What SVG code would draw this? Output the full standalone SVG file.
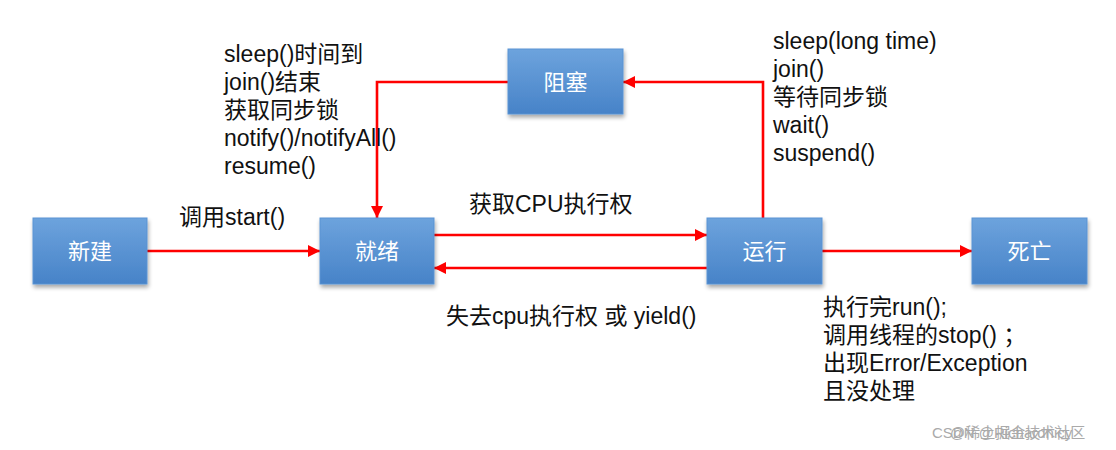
<svg xmlns="http://www.w3.org/2000/svg" width="1116" height="450" viewBox="0 0 1116 450">
<defs>
<linearGradient id="boxg" x1="0" y1="0" x2="0" y2="1">
<stop offset="0" stop-color="#6da3dd"/>
<stop offset="1" stop-color="#4783c8"/>
</linearGradient>
<filter id="sh" x="-10%" y="-10%" width="125%" height="135%">
<feGaussianBlur in="SourceAlpha" stdDeviation="2"/>
<feOffset dx="1" dy="3" result="b"/>
<feComponentTransfer><feFuncA type="linear" slope="0.35"/></feComponentTransfer>
<feMerge><feMergeNode/><feMergeNode in="SourceGraphic"/></feMerge>
</filter>
<marker id="ah" markerUnits="userSpaceOnUse" markerWidth="14" markerHeight="12" refX="12" refY="6" orient="auto">
<path d="M0,0 L12,6 L0,12 Z" fill="#f00"/>
</marker>
</defs>
<style>
.box{fill:url(#boxg);stroke:#5a93d3;stroke-width:1;filter:url(#sh)}
.bt{font-family:"Liberation Sans","Noto Sans CJK SC",sans-serif;font-size:22px;fill:#fff;text-anchor:middle}
.lb{font-family:"Liberation Sans","Noto Sans CJK SC",sans-serif;font-size:23px;fill:#111}
.cn{fill:none;stroke:#f00;stroke-width:2.6;marker-end:url(#ah)}
.wm{font-family:"Liberation Sans","Noto Sans CJK SC",sans-serif;font-size:15px;fill:#aaa}
</style>
<rect width="1116" height="450" fill="#fff"/>
<g id="connectors">
<path class="cn" d="M147,251 H320"/>
<path class="cn" d="M434,235 H707"/>
<path class="cn" d="M707,268 H434"/>
<path class="cn" d="M763,218 V82 H623"/>
<path class="cn" d="M508,82 H377 V218"/>
<path class="cn" d="M822,251 H972"/>
</g>
<g id="node-new"><rect class="box" x="33" y="218" width="114" height="66"/><text class="bt" x="90" y="259">新建</text></g>
<g id="node-ready"><rect class="box" x="320" y="218" width="114" height="66"/><text class="bt" x="377" y="259">就绪</text></g>
<g id="node-blocked"><rect class="box" x="508" y="49" width="115" height="65"/><text class="bt" x="565.5" y="89.500">阻塞</text></g>
<g id="node-running"><rect class="box" x="707" y="218" width="115" height="66"/><text class="bt" x="764.500" y="259">运行</text></g>
<g id="node-dead"><rect class="box" x="972" y="218" width="115" height="66"/><text class="bt" x="1029.500" y="259">死亡</text></g>
<g id="labels">
<text class="lb" x="224" y="62">sleep()时间到</text>
<text class="lb" x="224" y="90">join()结束</text>
<text class="lb" x="224" y="118">获取同步锁</text>
<text class="lb" x="224" y="146">notify()/notifyAll()</text>
<text class="lb" x="224" y="174">resume()</text>
<text class="lb" x="773" y="49">sleep(long time)</text>
<text class="lb" x="773" y="77">join()</text>
<text class="lb" x="773" y="105">等待同步锁</text>
<text class="lb" x="773" y="133">wait()</text>
<text class="lb" x="773" y="161">suspend()</text>
<text class="lb" x="179" y="225">调用start()</text>
<text class="lb" x="469" y="212">获取CPU执行权</text>
<text class="lb" x="446" y="324">失去cpu执行权 或 yield()</text>
<text class="lb" x="823" y="315">执行完run();</text>
<text class="lb" x="823" y="343" xml:space="preserve">调用线程的stop() ；</text>
<text class="lb" x="823" y="371">出现Error/Exception</text>
<text class="lb" x="823" y="399">且没处理</text>
</g>
<g id="watermark">
<text class="wm" x="932" y="438">CSDN @Richardnicy</text>
<text class="wm" x="950" y="438">@稀土掘金技术社区</text>
</g>
</svg>
